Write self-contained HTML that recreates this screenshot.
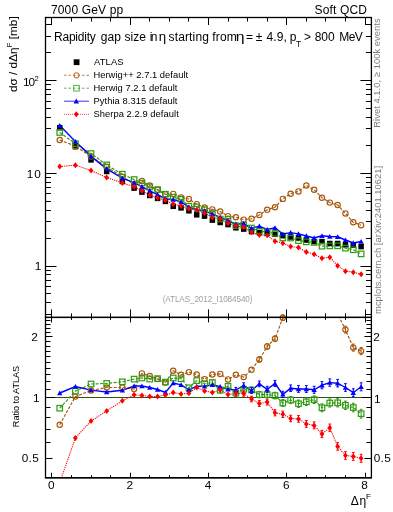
<!DOCTYPE html><html><head><meta charset="utf-8"><style>html,body{margin:0;padding:0;background:#fff;}svg{display:block;will-change:transform;}text{font-family:"Liberation Sans",sans-serif;}</style></head><body>
<svg width="393" height="512" viewBox="0 0 393 512">
<rect width="393" height="512" fill="#fff"/>
<defs><clipPath id="cm"><rect x="45.5" y="17.5" width="325.9" height="299.9"/></clipPath><clipPath id="cr"><rect x="45.5" y="317.4" width="325.9" height="160.3"/></clipPath></defs>
<text x="50.98" y="13.6" font-size="12" textLength="72.18" lengthAdjust="spacing">7000 GeV pp</text>
<text x="314.51" y="13.6" font-size="12" textLength="52.42" lengthAdjust="spacing">Soft QCD</text>
<text x="54.02" y="40.8" font-size="12" textLength="41.75" lengthAdjust="spacing">Rapidity</text>
<text x="100.67" y="40.8" font-size="12" textLength="20.35" lengthAdjust="spacing">gap</text>
<text x="124.53" y="40.8" font-size="12" textLength="21.44" lengthAdjust="spacing">size</text>
<text x="149.7" y="40.8" font-size="12" textLength="7.71" lengthAdjust="spacing">in</text>
<text x="158.71" y="40.8" font-size="12" textLength="7.38" lengthAdjust="spacingAndGlyphs">η</text>
<text x="168.53" y="40.8" font-size="12" textLength="40.37" lengthAdjust="spacing">starting</text>
<text x="212.31" y="40.8" font-size="12" textLength="24.55" lengthAdjust="spacing">from</text>
<text x="235.85" y="40.8" font-size="12" textLength="8.81" lengthAdjust="spacingAndGlyphs">η</text>
<text x="246.01" y="40.8" font-size="12">=</text>
<text x="255.82" y="40.8" font-size="12">±</text>
<text x="266.6" y="40.8" font-size="12" textLength="20.22" lengthAdjust="spacing">4.9,</text>
<text x="289.73" y="40.8" font-size="12">p</text>
<text x="295.91" y="47.4" font-size="8.4">T</text>
<text x="304.01" y="40.8" font-size="12">&gt;</text>
<text x="314.73" y="40.8" font-size="12" textLength="19.87" lengthAdjust="spacing">800</text>
<text x="339.22" y="40.8" font-size="12" textLength="23.66" lengthAdjust="spacing">MeV</text>
<g clip-path="url(#cm)">
<polyline points="59.73,140.03 75.38,146.15 91.04,156.55 106.7,166.78 122.35,176.78 134.09,184.07 141.92,180.91 149.75,185.51 157.58,189.83 165.41,194.43 173.23,193.92 181.06,197.36 188.89,199.02 196.72,204.12 204.55,207.53 212.37,209.42 220.2,211.54 228.03,216.16 235.86,217.26 243.69,219.61 251.51,218.72 259.34,214.94 267.17,209.83 275,207.2 282.83,198.88 290.65,193.7 298.48,191.4 306.31,185.5 314.14,189.7 321.97,197.7 329.79,202.6 337.62,205 345.45,213.43 353.28,222.28 361.11,225.19" fill="none" stroke="#a9570c" stroke-width="1.15" stroke-dasharray="3,1.5"/>
<polyline points="59.73,132.47 75.38,143.63 91.04,153.57 106.7,164.9 122.35,174.16 134.09,179.53 141.92,183.02 149.75,186.93 157.58,189.6 165.41,194.2 173.23,197.22 181.06,199.14 188.89,206.22 196.72,206.91 204.55,209.64 212.37,213.09 220.2,219.06 228.03,219.28 235.86,225.65 243.69,225.2 251.51,228.02 259.34,231.03 267.17,231.93 275,233.29 282.83,237.98 290.65,238.01 298.48,240.61 306.31,241.83 314.14,242.47 321.97,246.18 329.79,245.88 337.62,245.79 345.45,248.14 353.28,249.75 361.11,253.89" fill="none" stroke="#2f9a12" stroke-width="1.15" stroke-dasharray="3,1.5"/>
<polyline points="59.73,125.5 75.38,141.52 91.04,156.37 106.7,168.84 122.35,178.06 134.09,182.69 141.92,186.69 149.75,190.78 157.58,194.59 165.41,198.92 173.23,199.51 181.06,201.94 188.89,207.13 196.72,209.53 204.55,210.83 212.37,214.14 220.2,217.37 228.03,220.7 235.86,224.22 243.69,223.46 251.51,228.25 259.34,226.13 267.17,229.5 275,227.74 282.83,234.04 290.65,232.6 298.48,233.87 306.31,235.97 314.14,237.93 321.97,235.82 329.79,236.53 337.62,236.81 345.45,239.98 353.28,242.96 361.11,241.56" fill="none" stroke="#0000ff" stroke-width="1.4"/>
<polyline points="59.73,166.6 75.38,165.13 91.04,170.54 106.7,177.51 122.35,182.88 134.09,186.72 141.92,191 149.75,194.95 157.58,197.85 165.41,200.16 173.23,203.92 181.06,206.11 188.89,208.69 196.72,210.08 204.55,212.94 212.37,217.62 220.2,218.92 228.03,223.13 235.86,225.83 243.69,227.13 251.51,232.15 259.34,235.11 267.17,235.37 275,241.18 282.83,243.16 290.65,246.49 298.48,247.57 306.31,251.97 314.14,254.25 321.97,258.2 329.79,257.21 337.62,265.78 345.45,271.15 353.28,272.17 361.11,274.34" fill="none" stroke="#ff0000" stroke-width="1.1" stroke-dasharray="1.2,1.0"/>
<rect x="56.98" y="124.95" width="5.5" height="5.5" fill="#000"/>
<rect x="72.63" y="143.95" width="5.5" height="5.5" fill="#000"/>
<rect x="88.29" y="157.15" width="5.5" height="5.5" fill="#000"/>
<rect x="103.95" y="168.75" width="5.5" height="5.5" fill="#000"/>
<rect x="119.6" y="178.75" width="5.5" height="5.5" fill="#000"/>
<rect x="131.34" y="185.35" width="5.5" height="5.5" fill="#000"/>
<rect x="139.17" y="189.35" width="5.5" height="5.5" fill="#000"/>
<rect x="147" y="192.75" width="5.5" height="5.5" fill="#000"/>
<rect x="154.83" y="195.65" width="5.5" height="5.5" fill="#000"/>
<rect x="162.66" y="198.65" width="5.5" height="5.5" fill="#000"/>
<rect x="170.48" y="203.55" width="5.5" height="5.5" fill="#000"/>
<rect x="178.31" y="205.15" width="5.5" height="5.5" fill="#000"/>
<rect x="186.14" y="208.05" width="5.5" height="5.5" fill="#000"/>
<rect x="193.97" y="212.05" width="5.5" height="5.5" fill="#000"/>
<rect x="201.8" y="213.35" width="5.5" height="5.5" fill="#000"/>
<rect x="209.62" y="217.35" width="5.5" height="5.5" fill="#000"/>
<rect x="217.45" y="219.75" width="5.5" height="5.5" fill="#000"/>
<rect x="225.28" y="221.85" width="5.5" height="5.5" fill="#000"/>
<rect x="233.11" y="225.05" width="5.5" height="5.5" fill="#000"/>
<rect x="240.94" y="226.35" width="5.5" height="5.5" fill="#000"/>
<rect x="248.76" y="228.85" width="5.5" height="5.5" fill="#000"/>
<rect x="256.59" y="229.75" width="5.5" height="5.5" fill="#000"/>
<rect x="264.42" y="230.65" width="5.5" height="5.5" fill="#000"/>
<rect x="272.25" y="231.55" width="5.5" height="5.5" fill="#000"/>
<rect x="280.08" y="232.85" width="5.5" height="5.5" fill="#000"/>
<rect x="287.9" y="234.25" width="5.5" height="5.5" fill="#000"/>
<rect x="295.73" y="235.15" width="5.5" height="5.5" fill="#000"/>
<rect x="303.56" y="237.25" width="5.5" height="5.5" fill="#000"/>
<rect x="311.39" y="238.85" width="5.5" height="5.5" fill="#000"/>
<rect x="319.22" y="238.85" width="5.5" height="5.5" fill="#000"/>
<rect x="327.04" y="240.75" width="5.5" height="5.5" fill="#000"/>
<rect x="334.87" y="240.75" width="5.5" height="5.5" fill="#000"/>
<rect x="342.7" y="241.95" width="5.5" height="5.5" fill="#000"/>
<rect x="350.53" y="242.55" width="5.5" height="5.5" fill="#000"/>
<rect x="358.36" y="243.85" width="5.5" height="5.5" fill="#000"/>
<circle cx="59.73" cy="140.03" r="2.65" fill="none" stroke="#a9570c" stroke-width="1.15"/>
<circle cx="75.38" cy="146.15" r="2.65" fill="none" stroke="#a9570c" stroke-width="1.15"/>
<circle cx="91.04" cy="156.55" r="2.65" fill="none" stroke="#a9570c" stroke-width="1.15"/>
<circle cx="106.7" cy="166.78" r="2.65" fill="none" stroke="#a9570c" stroke-width="1.15"/>
<circle cx="122.35" cy="176.78" r="2.65" fill="none" stroke="#a9570c" stroke-width="1.15"/>
<circle cx="134.09" cy="184.07" r="2.65" fill="none" stroke="#a9570c" stroke-width="1.15"/>
<circle cx="141.92" cy="180.91" r="2.65" fill="none" stroke="#a9570c" stroke-width="1.15"/>
<circle cx="149.75" cy="185.51" r="2.65" fill="none" stroke="#a9570c" stroke-width="1.15"/>
<circle cx="157.58" cy="189.83" r="2.65" fill="none" stroke="#a9570c" stroke-width="1.15"/>
<circle cx="165.41" cy="194.43" r="2.65" fill="none" stroke="#a9570c" stroke-width="1.15"/>
<circle cx="173.23" cy="193.92" r="2.65" fill="none" stroke="#a9570c" stroke-width="1.15"/>
<circle cx="181.06" cy="197.36" r="2.65" fill="none" stroke="#a9570c" stroke-width="1.15"/>
<circle cx="188.89" cy="199.02" r="2.65" fill="none" stroke="#a9570c" stroke-width="1.15"/>
<circle cx="196.72" cy="204.12" r="2.65" fill="none" stroke="#a9570c" stroke-width="1.15"/>
<circle cx="204.55" cy="207.53" r="2.65" fill="none" stroke="#a9570c" stroke-width="1.15"/>
<circle cx="212.37" cy="209.42" r="2.65" fill="none" stroke="#a9570c" stroke-width="1.15"/>
<circle cx="220.2" cy="211.54" r="2.65" fill="none" stroke="#a9570c" stroke-width="1.15"/>
<circle cx="228.03" cy="216.16" r="2.65" fill="none" stroke="#a9570c" stroke-width="1.15"/>
<circle cx="235.86" cy="217.26" r="2.65" fill="none" stroke="#a9570c" stroke-width="1.15"/>
<circle cx="243.69" cy="219.61" r="2.65" fill="none" stroke="#a9570c" stroke-width="1.15"/>
<circle cx="251.51" cy="218.72" r="2.65" fill="none" stroke="#a9570c" stroke-width="1.15"/>
<circle cx="259.34" cy="214.94" r="2.65" fill="none" stroke="#a9570c" stroke-width="1.15"/>
<circle cx="267.17" cy="209.83" r="2.65" fill="none" stroke="#a9570c" stroke-width="1.15"/>
<circle cx="275" cy="207.2" r="2.65" fill="none" stroke="#a9570c" stroke-width="1.15"/>
<circle cx="282.83" cy="198.88" r="2.65" fill="none" stroke="#a9570c" stroke-width="1.15"/>
<circle cx="290.65" cy="193.7" r="2.65" fill="none" stroke="#a9570c" stroke-width="1.15"/>
<circle cx="298.48" cy="191.4" r="2.65" fill="none" stroke="#a9570c" stroke-width="1.15"/>
<circle cx="306.31" cy="185.5" r="2.65" fill="none" stroke="#a9570c" stroke-width="1.15"/>
<circle cx="314.14" cy="189.7" r="2.65" fill="none" stroke="#a9570c" stroke-width="1.15"/>
<circle cx="321.97" cy="197.7" r="2.65" fill="none" stroke="#a9570c" stroke-width="1.15"/>
<circle cx="329.79" cy="202.6" r="2.65" fill="none" stroke="#a9570c" stroke-width="1.15"/>
<circle cx="337.62" cy="205" r="2.65" fill="none" stroke="#a9570c" stroke-width="1.15"/>
<circle cx="345.45" cy="213.43" r="2.65" fill="none" stroke="#a9570c" stroke-width="1.15"/>
<circle cx="353.28" cy="222.28" r="2.65" fill="none" stroke="#a9570c" stroke-width="1.15"/>
<circle cx="361.11" cy="225.19" r="2.65" fill="none" stroke="#a9570c" stroke-width="1.15"/>
<rect x="56.98" y="129.72" width="5.5" height="5.5" fill="none" stroke="#2f9a12" stroke-width="1.2"/>
<rect x="72.63" y="140.88" width="5.5" height="5.5" fill="none" stroke="#2f9a12" stroke-width="1.2"/>
<rect x="88.29" y="150.82" width="5.5" height="5.5" fill="none" stroke="#2f9a12" stroke-width="1.2"/>
<rect x="103.95" y="162.15" width="5.5" height="5.5" fill="none" stroke="#2f9a12" stroke-width="1.2"/>
<rect x="119.6" y="171.41" width="5.5" height="5.5" fill="none" stroke="#2f9a12" stroke-width="1.2"/>
<rect x="131.34" y="176.78" width="5.5" height="5.5" fill="none" stroke="#2f9a12" stroke-width="1.2"/>
<rect x="139.17" y="180.27" width="5.5" height="5.5" fill="none" stroke="#2f9a12" stroke-width="1.2"/>
<rect x="147" y="184.18" width="5.5" height="5.5" fill="none" stroke="#2f9a12" stroke-width="1.2"/>
<rect x="154.83" y="186.85" width="5.5" height="5.5" fill="none" stroke="#2f9a12" stroke-width="1.2"/>
<rect x="162.66" y="191.45" width="5.5" height="5.5" fill="none" stroke="#2f9a12" stroke-width="1.2"/>
<rect x="170.48" y="194.47" width="5.5" height="5.5" fill="none" stroke="#2f9a12" stroke-width="1.2"/>
<rect x="178.31" y="196.39" width="5.5" height="5.5" fill="none" stroke="#2f9a12" stroke-width="1.2"/>
<rect x="186.14" y="203.47" width="5.5" height="5.5" fill="none" stroke="#2f9a12" stroke-width="1.2"/>
<rect x="193.97" y="204.16" width="5.5" height="5.5" fill="none" stroke="#2f9a12" stroke-width="1.2"/>
<rect x="201.8" y="206.89" width="5.5" height="5.5" fill="none" stroke="#2f9a12" stroke-width="1.2"/>
<rect x="209.62" y="210.34" width="5.5" height="5.5" fill="none" stroke="#2f9a12" stroke-width="1.2"/>
<rect x="217.45" y="216.31" width="5.5" height="5.5" fill="none" stroke="#2f9a12" stroke-width="1.2"/>
<rect x="225.28" y="216.53" width="5.5" height="5.5" fill="none" stroke="#2f9a12" stroke-width="1.2"/>
<rect x="233.11" y="222.9" width="5.5" height="5.5" fill="none" stroke="#2f9a12" stroke-width="1.2"/>
<rect x="240.94" y="222.45" width="5.5" height="5.5" fill="none" stroke="#2f9a12" stroke-width="1.2"/>
<rect x="248.76" y="225.27" width="5.5" height="5.5" fill="none" stroke="#2f9a12" stroke-width="1.2"/>
<rect x="256.59" y="228.28" width="5.5" height="5.5" fill="none" stroke="#2f9a12" stroke-width="1.2"/>
<rect x="264.42" y="229.18" width="5.5" height="5.5" fill="none" stroke="#2f9a12" stroke-width="1.2"/>
<rect x="272.25" y="230.54" width="5.5" height="5.5" fill="none" stroke="#2f9a12" stroke-width="1.2"/>
<rect x="280.08" y="235.23" width="5.5" height="5.5" fill="none" stroke="#2f9a12" stroke-width="1.2"/>
<rect x="287.9" y="235.26" width="5.5" height="5.5" fill="none" stroke="#2f9a12" stroke-width="1.2"/>
<rect x="295.73" y="237.86" width="5.5" height="5.5" fill="none" stroke="#2f9a12" stroke-width="1.2"/>
<rect x="303.56" y="239.08" width="5.5" height="5.5" fill="none" stroke="#2f9a12" stroke-width="1.2"/>
<rect x="311.39" y="239.72" width="5.5" height="5.5" fill="none" stroke="#2f9a12" stroke-width="1.2"/>
<rect x="319.22" y="243.43" width="5.5" height="5.5" fill="none" stroke="#2f9a12" stroke-width="1.2"/>
<rect x="327.04" y="243.13" width="5.5" height="5.5" fill="none" stroke="#2f9a12" stroke-width="1.2"/>
<rect x="334.87" y="243.04" width="5.5" height="5.5" fill="none" stroke="#2f9a12" stroke-width="1.2"/>
<rect x="342.7" y="245.39" width="5.5" height="5.5" fill="none" stroke="#2f9a12" stroke-width="1.2"/>
<rect x="350.53" y="247" width="5.5" height="5.5" fill="none" stroke="#2f9a12" stroke-width="1.2"/>
<rect x="358.36" y="251.14" width="5.5" height="5.5" fill="none" stroke="#2f9a12" stroke-width="1.2"/>
<polygon points="57.03,127.7 62.43,127.7 59.73,122.9" fill="#0000ff"/>
<polygon points="72.68,143.72 78.08,143.72 75.38,138.92" fill="#0000ff"/>
<polygon points="88.34,158.57 93.74,158.57 91.04,153.77" fill="#0000ff"/>
<polygon points="104,171.04 109.4,171.04 106.7,166.24" fill="#0000ff"/>
<polygon points="119.65,180.26 125.05,180.26 122.35,175.46" fill="#0000ff"/>
<polygon points="131.39,184.89 136.79,184.89 134.09,180.09" fill="#0000ff"/>
<polygon points="139.22,188.89 144.62,188.89 141.92,184.09" fill="#0000ff"/>
<polygon points="147.05,192.98 152.45,192.98 149.75,188.18" fill="#0000ff"/>
<polygon points="154.88,196.79 160.28,196.79 157.58,191.99" fill="#0000ff"/>
<polygon points="162.71,201.12 168.11,201.12 165.41,196.32" fill="#0000ff"/>
<polygon points="170.53,201.71 175.93,201.71 173.23,196.91" fill="#0000ff"/>
<polygon points="178.36,204.14 183.76,204.14 181.06,199.34" fill="#0000ff"/>
<polygon points="186.19,209.33 191.59,209.33 188.89,204.53" fill="#0000ff"/>
<polygon points="194.02,211.73 199.42,211.73 196.72,206.93" fill="#0000ff"/>
<polygon points="201.85,213.03 207.25,213.03 204.55,208.23" fill="#0000ff"/>
<polygon points="209.67,216.34 215.07,216.34 212.37,211.54" fill="#0000ff"/>
<polygon points="217.5,219.57 222.9,219.57 220.2,214.77" fill="#0000ff"/>
<polygon points="225.33,222.9 230.73,222.9 228.03,218.1" fill="#0000ff"/>
<polygon points="233.16,226.42 238.56,226.42 235.86,221.62" fill="#0000ff"/>
<polygon points="240.99,225.66 246.39,225.66 243.69,220.86" fill="#0000ff"/>
<polygon points="248.81,230.45 254.21,230.45 251.51,225.65" fill="#0000ff"/>
<polygon points="256.64,228.33 262.04,228.33 259.34,223.53" fill="#0000ff"/>
<polygon points="264.47,231.7 269.87,231.7 267.17,226.9" fill="#0000ff"/>
<polygon points="272.3,229.94 277.7,229.94 275,225.14" fill="#0000ff"/>
<polygon points="280.13,236.24 285.53,236.24 282.83,231.44" fill="#0000ff"/>
<polygon points="287.95,234.8 293.35,234.8 290.65,230" fill="#0000ff"/>
<polygon points="295.78,236.07 301.18,236.07 298.48,231.27" fill="#0000ff"/>
<polygon points="303.61,238.17 309.01,238.17 306.31,233.37" fill="#0000ff"/>
<polygon points="311.44,240.13 316.84,240.13 314.14,235.33" fill="#0000ff"/>
<polygon points="319.27,238.02 324.67,238.02 321.97,233.22" fill="#0000ff"/>
<polygon points="327.09,238.73 332.49,238.73 329.79,233.93" fill="#0000ff"/>
<polygon points="334.92,239.01 340.32,239.01 337.62,234.21" fill="#0000ff"/>
<polygon points="342.75,242.18 348.15,242.18 345.45,237.38" fill="#0000ff"/>
<polygon points="350.58,245.16 355.98,245.16 353.28,240.36" fill="#0000ff"/>
<polygon points="358.41,243.76 363.81,243.76 361.11,238.96" fill="#0000ff"/>
<polygon points="59.73,163.6 62.13,166.6 59.73,169.6 57.33,166.6" fill="#ff0000"/>
<polygon points="75.38,162.13 77.78,165.13 75.38,168.13 72.98,165.13" fill="#ff0000"/>
<polygon points="91.04,167.54 93.44,170.54 91.04,173.54 88.64,170.54" fill="#ff0000"/>
<polygon points="106.7,174.51 109.1,177.51 106.7,180.51 104.3,177.51" fill="#ff0000"/>
<polygon points="122.35,179.88 124.75,182.88 122.35,185.88 119.95,182.88" fill="#ff0000"/>
<polygon points="134.09,183.72 136.49,186.72 134.09,189.72 131.69,186.72" fill="#ff0000"/>
<polygon points="141.92,188 144.32,191 141.92,194 139.52,191" fill="#ff0000"/>
<polygon points="149.75,191.95 152.15,194.95 149.75,197.95 147.35,194.95" fill="#ff0000"/>
<polygon points="157.58,194.85 159.98,197.85 157.58,200.85 155.18,197.85" fill="#ff0000"/>
<polygon points="165.41,197.16 167.81,200.16 165.41,203.16 163.01,200.16" fill="#ff0000"/>
<polygon points="173.23,200.92 175.63,203.92 173.23,206.92 170.83,203.92" fill="#ff0000"/>
<polygon points="181.06,203.11 183.46,206.11 181.06,209.11 178.66,206.11" fill="#ff0000"/>
<polygon points="188.89,205.69 191.29,208.69 188.89,211.69 186.49,208.69" fill="#ff0000"/>
<polygon points="196.72,207.08 199.12,210.08 196.72,213.08 194.32,210.08" fill="#ff0000"/>
<polygon points="204.55,209.94 206.95,212.94 204.55,215.94 202.15,212.94" fill="#ff0000"/>
<polygon points="212.37,214.62 214.77,217.62 212.37,220.62 209.97,217.62" fill="#ff0000"/>
<polygon points="220.2,215.92 222.6,218.92 220.2,221.92 217.8,218.92" fill="#ff0000"/>
<polygon points="228.03,220.13 230.43,223.13 228.03,226.13 225.63,223.13" fill="#ff0000"/>
<polygon points="235.86,222.83 238.26,225.83 235.86,228.83 233.46,225.83" fill="#ff0000"/>
<polygon points="243.69,224.13 246.09,227.13 243.69,230.13 241.29,227.13" fill="#ff0000"/>
<polygon points="251.51,229.15 253.91,232.15 251.51,235.15 249.11,232.15" fill="#ff0000"/>
<polygon points="259.34,232.11 261.74,235.11 259.34,238.11 256.94,235.11" fill="#ff0000"/>
<polygon points="267.17,232.37 269.57,235.37 267.17,238.37 264.77,235.37" fill="#ff0000"/>
<polygon points="275,238.18 277.4,241.18 275,244.18 272.6,241.18" fill="#ff0000"/>
<polygon points="282.83,240.16 285.23,243.16 282.83,246.16 280.43,243.16" fill="#ff0000"/>
<polygon points="290.65,243.49 293.05,246.49 290.65,249.49 288.25,246.49" fill="#ff0000"/>
<polygon points="298.48,244.57 300.88,247.57 298.48,250.57 296.08,247.57" fill="#ff0000"/>
<polygon points="306.31,248.97 308.71,251.97 306.31,254.97 303.91,251.97" fill="#ff0000"/>
<polygon points="314.14,251.25 316.54,254.25 314.14,257.25 311.74,254.25" fill="#ff0000"/>
<polygon points="321.97,255.2 324.37,258.2 321.97,261.2 319.57,258.2" fill="#ff0000"/>
<polygon points="329.79,254.21 332.19,257.21 329.79,260.21 327.39,257.21" fill="#ff0000"/>
<polygon points="337.62,262.78 340.02,265.78 337.62,268.78 335.22,265.78" fill="#ff0000"/>
<polygon points="345.45,268.15 347.85,271.15 345.45,274.15 343.05,271.15" fill="#ff0000"/>
<polygon points="353.28,269.17 355.68,272.17 353.28,275.17 350.88,272.17" fill="#ff0000"/>
<polygon points="361.11,271.34 363.51,274.34 361.11,277.34 358.71,274.34" fill="#ff0000"/>
</g>
<rect x="73.7" y="59.3" width="5.8" height="5.8" fill="#000"/>
<line x1="64" y1="75.3" x2="89" y2="75.3" stroke="#a9570c" stroke-width="1" stroke-opacity="0.75" stroke-dasharray="2.5,2"/>
<circle cx="76.5" cy="75.3" r="2.6" fill="none" stroke="#a9570c" stroke-opacity="0.8" stroke-width="1.05"/>
<line x1="64" y1="88.2" x2="89" y2="88.2" stroke="#2f9a12" stroke-width="1" stroke-opacity="0.75" stroke-dasharray="2.5,2"/>
<rect x="73.7" y="85.4" width="5.6" height="5.6" fill="none" stroke="#2f9a12" stroke-opacity="0.75" stroke-width="1.05"/>
<line x1="64" y1="101.2" x2="89" y2="101.2" stroke="#0000ff" stroke-width="1" stroke-opacity="0.8"/>
<polygon points="73.6,103.4 79,103.4 76.3,98.6" fill="#0000ff"/>
<line x1="64" y1="114.3" x2="89" y2="114.3" stroke="#ff0000" stroke-width="1" stroke-opacity="0.75" stroke-dasharray="1,1"/>
<polygon points="76.3,111.3 78.7,114.3 76.3,117.3 73.9,114.3" fill="#ff0000"/>
<text x="93.94" y="64.9" font-size="9.4" textLength="29.7" lengthAdjust="spacing">ATLAS</text>
<text x="93.44" y="78.1" font-size="9.4" textLength="94.68" lengthAdjust="spacing">Herwig++ 2.7.1 default</text>
<text x="93.44" y="90.9" font-size="9.4" textLength="84" lengthAdjust="spacing">Herwig 7.2.1 default</text>
<text x="93.44" y="103.7" font-size="9.4" textLength="84" lengthAdjust="spacing">Pythia 8.315 default</text>
<text x="93.44" y="116.6" font-size="9.4" textLength="85.33" lengthAdjust="spacing">Sherpa 2.2.9 default</text>
<text x="162.67" y="301.9" font-size="8.2" fill="#a0a0a0" textLength="89.85" lengthAdjust="spacing">(ATLAS_2012_I1084540)</text>
<line x1="45.5" y1="397.5" x2="371.4" y2="397.5" stroke="#2c5418" stroke-width="1.05"/>
<g clip-path="url(#cr)">
<polyline points="59.73,424.7 75.38,396.6 91.04,390.5 106.7,387.5 122.35,387.5 134.09,389 141.92,373.4 149.75,376 157.58,379.1 165.41,382.6 173.23,370.8 181.06,374.8 188.89,372.1 196.72,374.5 204.55,379.1 212.37,374.5 220.2,373.9 228.03,379.4 235.86,374.8 243.69,377.1 251.51,369.7 259.34,359.5 267.17,346.4 275,338.7 282.83,317.7 290.65,303.36 298.48,296.38 306.31,278.93 314.14,284.6 321.97,302.05 329.79,308.59 337.62,313.83 345.45,329.6 353.28,347.6 361.11,351.1" fill="none" stroke="#a9570c" stroke-width="1.15" stroke-dasharray="3,1.5"/>
<polyline points="59.73,408.2 75.38,391.1 91.04,384 106.7,383.4 122.35,381.8 134.09,379.1 141.92,378 149.75,379.1 157.58,378.6 165.41,382.1 173.23,378 181.06,378.7 188.89,387.8 196.72,380.6 204.55,383.7 212.37,382.5 220.2,390.3 228.03,386.2 235.86,393.1 243.69,389.3 251.51,390 259.34,394.6 267.17,394.6 275,395.6 282.83,403 290.65,400 298.48,403.7 306.31,401.8 314.14,399.7 321.97,407.8 329.79,403 337.62,402.8 345.45,405.3 353.28,407.5 361.11,413.7" fill="none" stroke="#2f9a12" stroke-width="1.15" stroke-dasharray="3,1.5"/>
<polyline points="59.73,393 75.38,386.5 91.04,390.1 106.7,392 122.35,390.3 134.09,386 141.92,386 149.75,387.5 157.58,389.5 165.41,392.4 173.23,383 181.06,384.8 188.89,389.8 196.72,386.3 204.55,386.3 212.37,384.8 220.2,386.6 228.03,389.3 235.86,390 243.69,385.5 251.51,390.5 259.34,383.9 267.17,389.3 275,383.5 282.83,394.4 290.65,388.2 298.48,389 306.31,389 314.14,389.8 321.97,385.2 329.79,382.6 337.62,383.2 345.45,387.5 353.28,392.7 361.11,386.8" fill="none" stroke="#0000ff" stroke-width="1.4"/>
<polyline points="59.73,482.65 75.38,438 91.04,421 106.7,410.9 122.35,400.8 134.09,394.8 141.92,395.4 149.75,396.6 157.58,396.6 165.41,395.1 173.23,392.6 181.06,393.9 188.89,393.2 196.72,387.5 204.55,390.9 212.37,392.4 220.2,390 228.03,394.6 235.86,393.5 243.69,393.5 251.51,399 259.34,403.5 267.17,402.1 275,412.8 282.83,414.3 290.65,418.5 298.48,418.9 306.31,423.9 314.14,425.4 321.97,434 329.79,427.7 337.62,446.4 345.45,455.5 353.28,456.4 361.11,458.3" fill="none" stroke="#ff0000" stroke-width="1.1" stroke-dasharray="1.2,1.0"/>
</g>
<circle cx="59.73" cy="424.7" r="2.65" fill="none" stroke="#a9570c" stroke-width="1.15"/>
<circle cx="75.38" cy="396.6" r="2.65" fill="none" stroke="#a9570c" stroke-width="1.15"/>
<circle cx="91.04" cy="390.5" r="2.65" fill="none" stroke="#a9570c" stroke-width="1.15"/>
<circle cx="106.7" cy="387.5" r="2.65" fill="none" stroke="#a9570c" stroke-width="1.15"/>
<circle cx="122.35" cy="387.5" r="2.65" fill="none" stroke="#a9570c" stroke-width="1.15"/>
<circle cx="134.09" cy="389" r="2.65" fill="none" stroke="#a9570c" stroke-width="1.15"/>
<circle cx="141.92" cy="373.4" r="2.65" fill="none" stroke="#a9570c" stroke-width="1.15"/>
<circle cx="149.75" cy="376" r="2.65" fill="none" stroke="#a9570c" stroke-width="1.15"/>
<circle cx="157.58" cy="379.1" r="2.65" fill="none" stroke="#a9570c" stroke-width="1.15"/>
<circle cx="165.41" cy="382.6" r="2.65" fill="none" stroke="#a9570c" stroke-width="1.15"/>
<circle cx="173.23" cy="370.8" r="2.65" fill="none" stroke="#a9570c" stroke-width="1.15"/>
<circle cx="181.06" cy="374.8" r="2.65" fill="none" stroke="#a9570c" stroke-width="1.15"/>
<circle cx="188.89" cy="372.1" r="2.65" fill="none" stroke="#a9570c" stroke-width="1.15"/>
<circle cx="196.72" cy="374.5" r="2.65" fill="none" stroke="#a9570c" stroke-width="1.15"/>
<circle cx="204.55" cy="379.1" r="2.65" fill="none" stroke="#a9570c" stroke-width="1.15"/>
<circle cx="212.37" cy="374.5" r="2.65" fill="none" stroke="#a9570c" stroke-width="1.15"/>
<circle cx="220.2" cy="373.9" r="2.65" fill="none" stroke="#a9570c" stroke-width="1.15"/>
<circle cx="228.03" cy="379.4" r="2.65" fill="none" stroke="#a9570c" stroke-width="1.15"/>
<circle cx="235.86" cy="374.8" r="2.65" fill="none" stroke="#a9570c" stroke-width="1.15"/>
<circle cx="243.69" cy="377.1" r="2.65" fill="none" stroke="#a9570c" stroke-width="1.15"/>
<circle cx="251.51" cy="369.7" r="2.65" fill="none" stroke="#a9570c" stroke-width="1.15"/>
<path d="M259.34 356.88V362.12M257.94 356.88H260.74M257.94 362.12H260.74" stroke="#a9570c" stroke-width="1.0" fill="none"/>
<circle cx="259.34" cy="359.5" r="2.65" fill="none" stroke="#a9570c" stroke-width="1.15"/>
<path d="M267.17 343.71V349.09M265.77 343.71H268.57M265.77 349.09H268.57" stroke="#a9570c" stroke-width="1.0" fill="none"/>
<circle cx="267.17" cy="346.4" r="2.65" fill="none" stroke="#a9570c" stroke-width="1.15"/>
<path d="M275 335.93V341.47M273.6 335.93H276.4M273.6 341.47H276.4" stroke="#a9570c" stroke-width="1.0" fill="none"/>
<circle cx="275" cy="338.7" r="2.65" fill="none" stroke="#a9570c" stroke-width="1.15"/>
<path d="M282.83 314.85V320.55M281.43 314.85H284.23M281.43 320.55H284.23" stroke="#a9570c" stroke-width="1.0" fill="none"/>
<circle cx="282.83" cy="317.7" r="2.65" fill="none" stroke="#a9570c" stroke-width="1.15"/>
<path d="M345.45 326.15V333.05M344.05 326.15H346.85M344.05 333.05H346.85" stroke="#a9570c" stroke-width="1.0" fill="none"/>
<circle cx="345.45" cy="329.6" r="2.65" fill="none" stroke="#a9570c" stroke-width="1.15"/>
<path d="M353.28 344.07V351.13M351.88 344.07H354.68M351.88 351.13H354.68" stroke="#a9570c" stroke-width="1.0" fill="none"/>
<circle cx="353.28" cy="347.6" r="2.65" fill="none" stroke="#a9570c" stroke-width="1.15"/>
<path d="M361.11 347.5V354.7M359.71 347.5H362.51M359.71 354.7H362.51" stroke="#a9570c" stroke-width="1.0" fill="none"/>
<circle cx="361.11" cy="351.1" r="2.65" fill="none" stroke="#a9570c" stroke-width="1.15"/>
<rect x="56.98" y="405.45" width="5.5" height="5.5" fill="none" stroke="#2f9a12" stroke-width="1.2"/>
<rect x="72.63" y="388.35" width="5.5" height="5.5" fill="none" stroke="#2f9a12" stroke-width="1.2"/>
<rect x="88.29" y="381.25" width="5.5" height="5.5" fill="none" stroke="#2f9a12" stroke-width="1.2"/>
<rect x="103.95" y="380.65" width="5.5" height="5.5" fill="none" stroke="#2f9a12" stroke-width="1.2"/>
<rect x="119.6" y="379.05" width="5.5" height="5.5" fill="none" stroke="#2f9a12" stroke-width="1.2"/>
<rect x="131.34" y="376.35" width="5.5" height="5.5" fill="none" stroke="#2f9a12" stroke-width="1.2"/>
<rect x="139.17" y="375.25" width="5.5" height="5.5" fill="none" stroke="#2f9a12" stroke-width="1.2"/>
<rect x="147" y="376.35" width="5.5" height="5.5" fill="none" stroke="#2f9a12" stroke-width="1.2"/>
<rect x="154.83" y="375.85" width="5.5" height="5.5" fill="none" stroke="#2f9a12" stroke-width="1.2"/>
<rect x="162.66" y="379.35" width="5.5" height="5.5" fill="none" stroke="#2f9a12" stroke-width="1.2"/>
<rect x="170.48" y="375.25" width="5.5" height="5.5" fill="none" stroke="#2f9a12" stroke-width="1.2"/>
<rect x="178.31" y="375.95" width="5.5" height="5.5" fill="none" stroke="#2f9a12" stroke-width="1.2"/>
<rect x="186.14" y="385.05" width="5.5" height="5.5" fill="none" stroke="#2f9a12" stroke-width="1.2"/>
<rect x="193.97" y="377.85" width="5.5" height="5.5" fill="none" stroke="#2f9a12" stroke-width="1.2"/>
<rect x="201.8" y="380.95" width="5.5" height="5.5" fill="none" stroke="#2f9a12" stroke-width="1.2"/>
<path d="M212.37 379.9V385.1M210.97 379.9H213.77M210.97 385.1H213.77" stroke="#2f9a12" stroke-width="1.0" fill="none"/>
<rect x="209.62" y="379.75" width="5.5" height="5.5" fill="none" stroke="#2f9a12" stroke-width="1.2"/>
<path d="M220.2 387.6V393M218.8 387.6H221.6M218.8 393H221.6" stroke="#2f9a12" stroke-width="1.0" fill="none"/>
<rect x="217.45" y="387.55" width="5.5" height="5.5" fill="none" stroke="#2f9a12" stroke-width="1.2"/>
<path d="M228.03 383.4V389M226.63 383.4H229.43M226.63 389H229.43" stroke="#2f9a12" stroke-width="1.0" fill="none"/>
<rect x="225.28" y="383.45" width="5.5" height="5.5" fill="none" stroke="#2f9a12" stroke-width="1.2"/>
<path d="M235.86 390.2V396M234.46 390.2H237.26M234.46 396H237.26" stroke="#2f9a12" stroke-width="1.0" fill="none"/>
<rect x="233.11" y="390.35" width="5.5" height="5.5" fill="none" stroke="#2f9a12" stroke-width="1.2"/>
<path d="M243.69 386.3V392.3M242.29 386.3H245.09M242.29 392.3H245.09" stroke="#2f9a12" stroke-width="1.0" fill="none"/>
<rect x="240.94" y="386.55" width="5.5" height="5.5" fill="none" stroke="#2f9a12" stroke-width="1.2"/>
<path d="M251.51 386.9V393.1M250.11 386.9H252.91M250.11 393.1H252.91" stroke="#2f9a12" stroke-width="1.0" fill="none"/>
<rect x="248.76" y="387.25" width="5.5" height="5.5" fill="none" stroke="#2f9a12" stroke-width="1.2"/>
<path d="M259.34 391.4V397.8M257.94 391.4H260.74M257.94 397.8H260.74" stroke="#2f9a12" stroke-width="1.0" fill="none"/>
<rect x="256.59" y="391.85" width="5.5" height="5.5" fill="none" stroke="#2f9a12" stroke-width="1.2"/>
<path d="M267.17 391.31V397.89M265.77 391.31H268.57M265.77 397.89H268.57" stroke="#2f9a12" stroke-width="1.0" fill="none"/>
<rect x="264.42" y="391.85" width="5.5" height="5.5" fill="none" stroke="#2f9a12" stroke-width="1.2"/>
<path d="M275 392.21V398.99M273.6 392.21H276.4M273.6 398.99H276.4" stroke="#2f9a12" stroke-width="1.0" fill="none"/>
<rect x="272.25" y="392.85" width="5.5" height="5.5" fill="none" stroke="#2f9a12" stroke-width="1.2"/>
<path d="M282.83 399.52V406.48M281.43 399.52H284.23M281.43 406.48H284.23" stroke="#2f9a12" stroke-width="1.0" fill="none"/>
<rect x="280.08" y="400.25" width="5.5" height="5.5" fill="none" stroke="#2f9a12" stroke-width="1.2"/>
<path d="M290.65 396.42V403.58M289.25 396.42H292.05M289.25 403.58H292.05" stroke="#2f9a12" stroke-width="1.0" fill="none"/>
<rect x="287.9" y="397.25" width="5.5" height="5.5" fill="none" stroke="#2f9a12" stroke-width="1.2"/>
<path d="M298.48 400.03V407.37M297.08 400.03H299.88M297.08 407.37H299.88" stroke="#2f9a12" stroke-width="1.0" fill="none"/>
<rect x="295.73" y="400.95" width="5.5" height="5.5" fill="none" stroke="#2f9a12" stroke-width="1.2"/>
<path d="M306.31 398.04V405.56M304.91 398.04H307.71M304.91 405.56H307.71" stroke="#2f9a12" stroke-width="1.0" fill="none"/>
<rect x="303.56" y="399.05" width="5.5" height="5.5" fill="none" stroke="#2f9a12" stroke-width="1.2"/>
<path d="M314.14 395.84V403.56M312.74 395.84H315.54M312.74 403.56H315.54" stroke="#2f9a12" stroke-width="1.0" fill="none"/>
<rect x="311.39" y="396.95" width="5.5" height="5.5" fill="none" stroke="#2f9a12" stroke-width="1.2"/>
<path d="M321.97 403.85V411.75M320.57 403.85H323.37M320.57 411.75H323.37" stroke="#2f9a12" stroke-width="1.0" fill="none"/>
<rect x="319.22" y="405.05" width="5.5" height="5.5" fill="none" stroke="#2f9a12" stroke-width="1.2"/>
<path d="M329.79 398.96V407.04M328.39 398.96H331.19M328.39 407.04H331.19" stroke="#2f9a12" stroke-width="1.0" fill="none"/>
<rect x="327.04" y="400.25" width="5.5" height="5.5" fill="none" stroke="#2f9a12" stroke-width="1.2"/>
<path d="M337.62 398.67V406.93M336.22 398.67H339.02M336.22 406.93H339.02" stroke="#2f9a12" stroke-width="1.0" fill="none"/>
<rect x="334.87" y="400.05" width="5.5" height="5.5" fill="none" stroke="#2f9a12" stroke-width="1.2"/>
<path d="M345.45 401.08V409.52M344.05 401.08H346.85M344.05 409.52H346.85" stroke="#2f9a12" stroke-width="1.0" fill="none"/>
<rect x="342.7" y="402.55" width="5.5" height="5.5" fill="none" stroke="#2f9a12" stroke-width="1.2"/>
<path d="M353.28 403.19V411.81M351.88 403.19H354.68M351.88 411.81H354.68" stroke="#2f9a12" stroke-width="1.0" fill="none"/>
<rect x="350.53" y="404.75" width="5.5" height="5.5" fill="none" stroke="#2f9a12" stroke-width="1.2"/>
<path d="M361.11 409.3V418.1M359.71 409.3H362.51M359.71 418.1H362.51" stroke="#2f9a12" stroke-width="1.0" fill="none"/>
<rect x="358.36" y="410.95" width="5.5" height="5.5" fill="none" stroke="#2f9a12" stroke-width="1.2"/>
<polygon points="57.03,395.2 62.43,395.2 59.73,390.4" fill="#0000ff"/>
<polygon points="72.68,388.7 78.08,388.7 75.38,383.9" fill="#0000ff"/>
<polygon points="88.34,392.3 93.74,392.3 91.04,387.5" fill="#0000ff"/>
<polygon points="104,394.2 109.4,394.2 106.7,389.4" fill="#0000ff"/>
<polygon points="119.65,392.5 125.05,392.5 122.35,387.7" fill="#0000ff"/>
<polygon points="131.39,388.2 136.79,388.2 134.09,383.4" fill="#0000ff"/>
<polygon points="139.22,388.2 144.62,388.2 141.92,383.4" fill="#0000ff"/>
<polygon points="147.05,389.7 152.45,389.7 149.75,384.9" fill="#0000ff"/>
<polygon points="154.88,391.7 160.28,391.7 157.58,386.9" fill="#0000ff"/>
<polygon points="162.71,394.6 168.11,394.6 165.41,389.8" fill="#0000ff"/>
<polygon points="170.53,385.2 175.93,385.2 173.23,380.4" fill="#0000ff"/>
<polygon points="178.36,387 183.76,387 181.06,382.2" fill="#0000ff"/>
<polygon points="186.19,392 191.59,392 188.89,387.2" fill="#0000ff"/>
<polygon points="194.02,388.5 199.42,388.5 196.72,383.7" fill="#0000ff"/>
<polygon points="201.85,388.5 207.25,388.5 204.55,383.7" fill="#0000ff"/>
<polygon points="209.67,387 215.07,387 212.37,382.2" fill="#0000ff"/>
<polygon points="217.5,388.8 222.9,388.8 220.2,384" fill="#0000ff"/>
<polygon points="225.33,391.5 230.73,391.5 228.03,386.7" fill="#0000ff"/>
<path d="M235.86 387.36V392.64M234.46 387.36H237.26M234.46 392.64H237.26" stroke="#0000ff" stroke-width="1.0" fill="none"/>
<polygon points="233.16,392.2 238.56,392.2 235.86,387.4" fill="#0000ff"/>
<path d="M243.69 382.77V388.23M242.29 382.77H245.09M242.29 388.23H245.09" stroke="#0000ff" stroke-width="1.0" fill="none"/>
<polygon points="240.99,387.7 246.39,387.7 243.69,382.9" fill="#0000ff"/>
<path d="M251.51 387.68V393.32M250.11 387.68H252.91M250.11 393.32H252.91" stroke="#0000ff" stroke-width="1.0" fill="none"/>
<polygon points="248.81,392.7 254.21,392.7 251.51,387.9" fill="#0000ff"/>
<path d="M259.34 380.99V386.81M257.94 380.99H260.74M257.94 386.81H260.74" stroke="#0000ff" stroke-width="1.0" fill="none"/>
<polygon points="256.64,386.1 262.04,386.1 259.34,381.3" fill="#0000ff"/>
<path d="M267.17 386.31V392.29M265.77 386.31H268.57M265.77 392.29H268.57" stroke="#0000ff" stroke-width="1.0" fill="none"/>
<polygon points="264.47,391.5 269.87,391.5 267.17,386.7" fill="#0000ff"/>
<path d="M275 380.42V386.58M273.6 380.42H276.4M273.6 386.58H276.4" stroke="#0000ff" stroke-width="1.0" fill="none"/>
<polygon points="272.3,385.7 277.7,385.7 275,380.9" fill="#0000ff"/>
<path d="M282.83 391.23V397.57M281.43 391.23H284.23M281.43 397.57H284.23" stroke="#0000ff" stroke-width="1.0" fill="none"/>
<polygon points="280.13,396.6 285.53,396.6 282.83,391.8" fill="#0000ff"/>
<path d="M290.65 384.95V391.45M289.25 384.95H292.05M289.25 391.45H292.05" stroke="#0000ff" stroke-width="1.0" fill="none"/>
<polygon points="287.95,390.4 293.35,390.4 290.65,385.6" fill="#0000ff"/>
<path d="M298.48 385.66V392.34M297.08 385.66H299.88M297.08 392.34H299.88" stroke="#0000ff" stroke-width="1.0" fill="none"/>
<polygon points="295.78,391.2 301.18,391.2 298.48,386.4" fill="#0000ff"/>
<path d="M306.31 385.58V392.42M304.91 385.58H307.71M304.91 392.42H307.71" stroke="#0000ff" stroke-width="1.0" fill="none"/>
<polygon points="303.61,391.2 309.01,391.2 306.31,386.4" fill="#0000ff"/>
<path d="M314.14 386.29V393.31M312.74 386.29H315.54M312.74 393.31H315.54" stroke="#0000ff" stroke-width="1.0" fill="none"/>
<polygon points="311.44,392 316.84,392 314.14,387.2" fill="#0000ff"/>
<path d="M321.97 381.61V388.79M320.57 381.61H323.37M320.57 388.79H323.37" stroke="#0000ff" stroke-width="1.0" fill="none"/>
<polygon points="319.27,387.4 324.67,387.4 321.97,382.6" fill="#0000ff"/>
<path d="M329.79 378.93V386.27M328.39 378.93H331.19M328.39 386.27H331.19" stroke="#0000ff" stroke-width="1.0" fill="none"/>
<polygon points="327.09,384.8 332.49,384.8 329.79,380" fill="#0000ff"/>
<path d="M337.62 379.44V386.96M336.22 379.44H339.02M336.22 386.96H339.02" stroke="#0000ff" stroke-width="1.0" fill="none"/>
<polygon points="334.92,385.4 340.32,385.4 337.62,380.6" fill="#0000ff"/>
<path d="M345.45 383.66V391.34M344.05 383.66H346.85M344.05 391.34H346.85" stroke="#0000ff" stroke-width="1.0" fill="none"/>
<polygon points="342.75,389.7 348.15,389.7 345.45,384.9" fill="#0000ff"/>
<path d="M353.28 388.78V396.62M351.88 388.78H354.68M351.88 396.62H354.68" stroke="#0000ff" stroke-width="1.0" fill="none"/>
<polygon points="350.58,394.9 355.98,394.9 353.28,390.1" fill="#0000ff"/>
<path d="M361.11 382.8V390.8M359.71 382.8H362.51M359.71 390.8H362.51" stroke="#0000ff" stroke-width="1.0" fill="none"/>
<polygon points="358.41,389 363.81,389 361.11,384.2" fill="#0000ff"/>
<polygon points="75.38,435 77.78,438 75.38,441 72.98,438" fill="#ff0000"/>
<polygon points="91.04,418 93.44,421 91.04,424 88.64,421" fill="#ff0000"/>
<polygon points="106.7,407.9 109.1,410.9 106.7,413.9 104.3,410.9" fill="#ff0000"/>
<polygon points="122.35,397.8 124.75,400.8 122.35,403.8 119.95,400.8" fill="#ff0000"/>
<polygon points="134.09,391.8 136.49,394.8 134.09,397.8 131.69,394.8" fill="#ff0000"/>
<polygon points="141.92,392.4 144.32,395.4 141.92,398.4 139.52,395.4" fill="#ff0000"/>
<polygon points="149.75,393.6 152.15,396.6 149.75,399.6 147.35,396.6" fill="#ff0000"/>
<polygon points="157.58,393.6 159.98,396.6 157.58,399.6 155.18,396.6" fill="#ff0000"/>
<polygon points="165.41,392.1 167.81,395.1 165.41,398.1 163.01,395.1" fill="#ff0000"/>
<polygon points="173.23,389.6 175.63,392.6 173.23,395.6 170.83,392.6" fill="#ff0000"/>
<polygon points="181.06,390.9 183.46,393.9 181.06,396.9 178.66,393.9" fill="#ff0000"/>
<polygon points="188.89,390.2 191.29,393.2 188.89,396.2 186.49,393.2" fill="#ff0000"/>
<polygon points="196.72,384.5 199.12,387.5 196.72,390.5 194.32,387.5" fill="#ff0000"/>
<polygon points="204.55,387.9 206.95,390.9 204.55,393.9 202.15,390.9" fill="#ff0000"/>
<polygon points="212.37,389.4 214.77,392.4 212.37,395.4 209.97,392.4" fill="#ff0000"/>
<polygon points="220.2,387 222.6,390 220.2,393 217.8,390" fill="#ff0000"/>
<polygon points="228.03,391.6 230.43,394.6 228.03,397.6 225.63,394.6" fill="#ff0000"/>
<path d="M235.86 390.86V396.14M234.46 390.86H237.26M234.46 396.14H237.26" stroke="#ff0000" stroke-width="1.0" fill="none"/>
<polygon points="235.86,390.5 238.26,393.5 235.86,396.5 233.46,393.5" fill="#ff0000"/>
<path d="M243.69 390.77V396.23M242.29 390.77H245.09M242.29 396.23H245.09" stroke="#ff0000" stroke-width="1.0" fill="none"/>
<polygon points="243.69,390.5 246.09,393.5 243.69,396.5 241.29,393.5" fill="#ff0000"/>
<path d="M251.51 396.18V401.82M250.11 396.18H252.91M250.11 401.82H252.91" stroke="#ff0000" stroke-width="1.0" fill="none"/>
<polygon points="251.51,396 253.91,399 251.51,402 249.11,399" fill="#ff0000"/>
<path d="M259.34 400.59V406.41M257.94 400.59H260.74M257.94 406.41H260.74" stroke="#ff0000" stroke-width="1.0" fill="none"/>
<polygon points="259.34,400.5 261.74,403.5 259.34,406.5 256.94,403.5" fill="#ff0000"/>
<path d="M267.17 399.11V405.09M265.77 399.11H268.57M265.77 405.09H268.57" stroke="#ff0000" stroke-width="1.0" fill="none"/>
<polygon points="267.17,399.1 269.57,402.1 267.17,405.1 264.77,402.1" fill="#ff0000"/>
<path d="M275 409.72V415.88M273.6 409.72H276.4M273.6 415.88H276.4" stroke="#ff0000" stroke-width="1.0" fill="none"/>
<polygon points="275,409.8 277.4,412.8 275,415.8 272.6,412.8" fill="#ff0000"/>
<path d="M282.83 411.13V417.47M281.43 411.13H284.23M281.43 417.47H284.23" stroke="#ff0000" stroke-width="1.0" fill="none"/>
<polygon points="282.83,411.3 285.23,414.3 282.83,417.3 280.43,414.3" fill="#ff0000"/>
<path d="M290.65 415.25V421.75M289.25 415.25H292.05M289.25 421.75H292.05" stroke="#ff0000" stroke-width="1.0" fill="none"/>
<polygon points="290.65,415.5 293.05,418.5 290.65,421.5 288.25,418.5" fill="#ff0000"/>
<path d="M298.48 415.56V422.24M297.08 415.56H299.88M297.08 422.24H299.88" stroke="#ff0000" stroke-width="1.0" fill="none"/>
<polygon points="298.48,415.9 300.88,418.9 298.48,421.9 296.08,418.9" fill="#ff0000"/>
<path d="M306.31 420.48V427.32M304.91 420.48H307.71M304.91 427.32H307.71" stroke="#ff0000" stroke-width="1.0" fill="none"/>
<polygon points="306.31,420.9 308.71,423.9 306.31,426.9 303.91,423.9" fill="#ff0000"/>
<path d="M314.14 421.89V428.91M312.74 421.89H315.54M312.74 428.91H315.54" stroke="#ff0000" stroke-width="1.0" fill="none"/>
<polygon points="314.14,422.4 316.54,425.4 314.14,428.4 311.74,425.4" fill="#ff0000"/>
<path d="M321.97 430.41V437.59M320.57 430.41H323.37M320.57 437.59H323.37" stroke="#ff0000" stroke-width="1.0" fill="none"/>
<polygon points="321.97,431 324.37,434 321.97,437 319.57,434" fill="#ff0000"/>
<path d="M329.79 424.03V431.37M328.39 424.03H331.19M328.39 431.37H331.19" stroke="#ff0000" stroke-width="1.0" fill="none"/>
<polygon points="329.79,424.7 332.19,427.7 329.79,430.7 327.39,427.7" fill="#ff0000"/>
<path d="M337.62 442.64V450.16M336.22 442.64H339.02M336.22 450.16H339.02" stroke="#ff0000" stroke-width="1.0" fill="none"/>
<polygon points="337.62,443.4 340.02,446.4 337.62,449.4 335.22,446.4" fill="#ff0000"/>
<path d="M345.45 451.66V459.34M344.05 451.66H346.85M344.05 459.34H346.85" stroke="#ff0000" stroke-width="1.0" fill="none"/>
<polygon points="345.45,452.5 347.85,455.5 345.45,458.5 343.05,455.5" fill="#ff0000"/>
<path d="M353.28 452.48V460.32M351.88 452.48H354.68M351.88 460.32H354.68" stroke="#ff0000" stroke-width="1.0" fill="none"/>
<polygon points="353.28,453.4 355.68,456.4 353.28,459.4 350.88,456.4" fill="#ff0000"/>
<path d="M361.11 454.3V462.3M359.71 454.3H362.51M359.71 462.3H362.51" stroke="#ff0000" stroke-width="1.0" fill="none"/>
<polygon points="361.11,455.3 363.51,458.3 361.11,461.3 358.71,458.3" fill="#ff0000"/>
<path d="M45.5 314.5h5.5M371.4 314.5h-5.5M45.5 302.5h5.5M371.4 302.5h-5.5M45.5 293.5h5.5M371.4 293.5h-5.5M45.5 286.5h5.5M371.4 286.5h-5.5M45.5 280.5h5.5M371.4 280.5h-5.5M45.5 274.5h5.5M371.4 274.5h-5.5M45.5 270.5h5.5M371.4 270.5h-5.5M45.5 266.5h11M371.4 266.5h-11M45.5 238.5h5.5M371.4 238.5h-5.5M45.5 221.5h5.5M371.4 221.5h-5.5M45.5 210.5h5.5M371.4 210.5h-5.5M45.5 201.5h5.5M371.4 201.5h-5.5M45.5 193.5h5.5M371.4 193.5h-5.5M45.5 187.5h5.5M371.4 187.5h-5.5M45.5 182.5h5.5M371.4 182.5h-5.5M45.5 177.5h5.5M371.4 177.5h-5.5M45.5 173.5h11M371.4 173.5h-11M45.5 145.5h5.5M371.4 145.5h-5.5M45.5 128.5h5.5M371.4 128.5h-5.5M45.5 117.5h5.5M371.4 117.5h-5.5M45.5 108.5h5.5M371.4 108.5h-5.5M45.5 101.5h5.5M371.4 101.5h-5.5M45.5 94.5h5.5M371.4 94.5h-5.5M45.5 89.5h5.5M371.4 89.5h-5.5M45.5 84.5h5.5M371.4 84.5h-5.5M45.5 80.5h11M371.4 80.5h-11M45.5 52.5h5.5M371.4 52.5h-5.5M45.5 36.5h5.5M371.4 36.5h-5.5M45.5 24.5h5.5M371.4 24.5h-5.5M45.5 458.5h7M371.4 458.5h-7M45.5 442.5h5M371.4 442.5h-5M45.5 429.5h5M371.4 429.5h-5M45.5 417.5h5M371.4 417.5h-5M45.5 407.5h5M371.4 407.5h-5M45.5 397.5h9.5M371.4 397.5h-9.5M45.5 389.5h5M371.4 389.5h-5M45.5 381.5h5M371.4 381.5h-5M45.5 374.5h5M371.4 374.5h-5M45.5 368.5h5M371.4 368.5h-5M45.5 362.5h5M371.4 362.5h-5M45.5 356.5h5M371.4 356.5h-5M45.5 351.5h5M371.4 351.5h-5M45.5 346.5h5M371.4 346.5h-5M45.5 341.5h5M371.4 341.5h-5M45.5 336.5h7M371.4 336.5h-7M45.5 332.5h5M371.4 332.5h-5M45.5 328.5h5M371.4 328.5h-5M45.5 324.5h5M371.4 324.5h-5M45.5 320.5h5M371.4 320.5h-5M51.5 17.5v7.5M51.5 317.4v-8M51.5 317.4v5M51.5 477.7v-5M71.5 17.5v4M71.5 317.4v-4M71.5 317.4v2.5M71.5 477.7v-2.5M91.5 17.5v4M91.5 317.4v-4M91.5 317.4v2.5M91.5 477.7v-2.5M110.5 17.5v4M110.5 317.4v-4M110.5 317.4v2.5M110.5 477.7v-2.5M130.5 17.5v7.5M130.5 317.4v-8M130.5 317.4v5M130.5 477.7v-5M149.5 17.5v4M149.5 317.4v-4M149.5 317.4v2.5M149.5 477.7v-2.5M169.5 17.5v4M169.5 317.4v-4M169.5 317.4v2.5M169.5 477.7v-2.5M188.5 17.5v4M188.5 317.4v-4M188.5 317.4v2.5M188.5 477.7v-2.5M208.5 17.5v7.5M208.5 317.4v-8M208.5 317.4v5M208.5 477.7v-5M228.5 17.5v4M228.5 317.4v-4M228.5 317.4v2.5M228.5 477.7v-2.5M247.5 17.5v4M247.5 317.4v-4M247.5 317.4v2.5M247.5 477.7v-2.5M267.5 17.5v4M267.5 317.4v-4M267.5 317.4v2.5M267.5 477.7v-2.5M286.5 17.5v7.5M286.5 317.4v-8M286.5 317.4v5M286.5 477.7v-5M306.5 17.5v4M306.5 317.4v-4M306.5 317.4v2.5M306.5 477.7v-2.5M325.5 17.5v4M325.5 317.4v-4M325.5 317.4v2.5M325.5 477.7v-2.5M345.5 17.5v4M345.5 317.4v-4M345.5 317.4v2.5M345.5 477.7v-2.5M365.5 17.5v7.5M365.5 317.4v-8M365.5 317.4v5M365.5 477.7v-5" stroke="#000" stroke-width="1" fill="none"/>
<rect x="45.5" y="17.5" width="325.9" height="299.9" fill="none" stroke="#000" stroke-width="1.3"/>
<rect x="45.5" y="317.4" width="325.9" height="160.3" fill="none" stroke="#000" stroke-width="1.3"/>
<line x1="44.9" y1="477.7" x2="372" y2="477.7" stroke="#000" stroke-width="1.6"/>
<text x="23.07" y="86" font-size="11.8" textLength="12.11" lengthAdjust="spacing">10</text>
<text x="34.62" y="80.7" font-size="7.6">2</text>
<text x="26.67" y="177.9" font-size="11.8" textLength="14.08" lengthAdjust="spacing">10</text>
<text x="34.7" y="270.1" font-size="11.8">1</text>
<text x="31.31" y="341" font-size="11.8">2</text>
<text x="33.1" y="401.8" font-size="11.8">1</text>
<text x="21.69" y="461.9" font-size="11.8" textLength="17.05" lengthAdjust="spacing">0.5</text>
<text x="373.31" y="340.8" font-size="11.8">2</text>
<text x="373.9" y="402.7" font-size="11.8">1</text>
<text x="373.69" y="461.9" font-size="11.8" textLength="17.06" lengthAdjust="spacing">0.5</text>
<text x="48.12" y="488.9" font-size="11.8">0</text>
<text x="126.4" y="488.9" font-size="11.8">2</text>
<text x="204.72" y="488.9" font-size="11.8">4</text>
<text x="282.92" y="488.9" font-size="11.8">6</text>
<text x="361.24" y="488.9" font-size="11.8">8</text>
<text x="350.63" y="504.7" font-size="12" textLength="15.48" lengthAdjust="spacing">Δη</text>
<text x="366.04" y="498.8" font-size="8">F</text>
<text transform="translate(17.4,91.6) rotate(-90)" x="-0.5" font-size="11.8">dσ / dΔη<tspan font-size="8" dy="-5">F</tspan><tspan dy="5"> [mb]</tspan></text>
<text transform="translate(18.7,426.4) rotate(-90)" x="-0.75" y="0" font-size="9.2" textLength="61.41" lengthAdjust="spacing">Ratio to ATLAS</text>
<text transform="translate(380.2,127) rotate(-90)" x="-0.76" y="0" font-size="9.4" fill="#7c7c7c" textLength="109.43" lengthAdjust="spacing">Rivet 4.1.0, ≥ 100k events</text>
<text transform="translate(380.8,313.3) rotate(-90)" x="-0.65" y="0" font-size="9.4" fill="#7c7c7c" textLength="148.14" lengthAdjust="spacing">mcplots.cern.ch [arXiv:2401.10621]</text>
</svg></body></html>
